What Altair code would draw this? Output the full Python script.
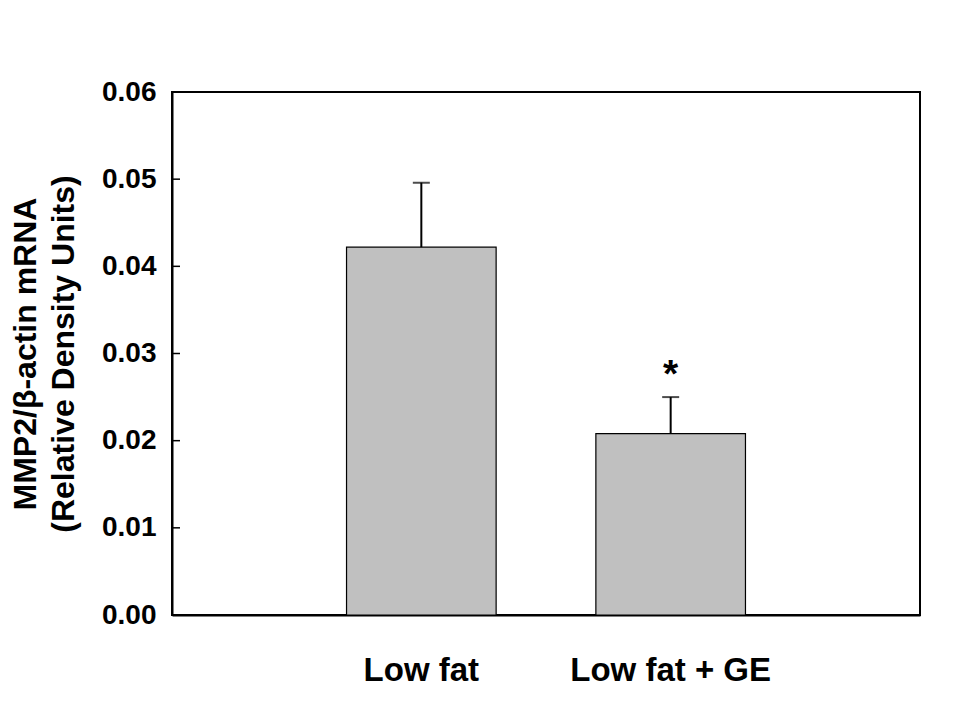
import altair as alt
import pandas as pd

groups = ["Low fat", "Low fat + GE"]
means = [0.0422, 0.0208]
errors = [0.0074, 0.0042]
signif = ["", "*"]
tick_values = [0.01, 0.02, 0.03, 0.04, 0.05]

df = pd.DataFrame({
    "group": groups,
    "mean": means,
    "upper": [m + e for m, e in zip(means, errors)],
    "sig": signif,
})
ticks_df = pd.DataFrame({"v": tick_values})

FONT = "Liberation Sans"

x = alt.X("group:N", sort=groups, title=None,
          scale=alt.Scale(paddingInner=0.4, paddingOuter=0.7),
          axis=alt.Axis(labelAngle=0, ticks=False, labelFontSize=33, labelFont=FONT,
                        labelFontWeight="bold", labelColor="black", labelPadding=39,
                        labelLimit=0, domainColor="black", domainWidth=2))
yscale = alt.Scale(domain=[0, 0.06], nice=False)

bars = alt.Chart(df).mark_bar(color="#c0c0c0", stroke="black", strokeWidth=1.2).encode(
    x=x,
    y=alt.Y("mean:Q", scale=yscale,
            title=["MMP2/β-actin mRNA", "(Relative Density Units)"],
            axis=alt.Axis(values=[0, 0.01, 0.02, 0.03, 0.04, 0.05, 0.06], format=".2f",
                          ticks=False, grid=False, labelFontSize=28, labelFont=FONT,
                          labelFontWeight="bold", labelColor="black", labelPadding=16,
                          domainColor="black", domainWidth=2,
                          titleFontSize=32, titleFont=FONT, titleFontWeight="bold",
                          titleColor="black", titlePadding=21, titleLineHeight=38)),
)

err = alt.Chart(df).mark_rule(color="black", strokeWidth=2).encode(
    x=alt.X("group:N", sort=groups),
    y=alt.Y("mean:Q", scale=yscale),
    y2="upper:Q",
)

caps = alt.Chart(df).mark_tick(color="black", thickness=2, size=17, orient="horizontal").encode(
    x=alt.X("group:N", sort=groups),
    y=alt.Y("upper:Q", scale=yscale),
)

stars = alt.Chart(df).mark_text(fontSize=39, font=FONT, fontWeight="bold", color="black",
                                baseline="alphabetic", dy=-10).encode(
    x=alt.X("group:N", sort=groups),
    y=alt.Y("upper:Q", scale=yscale),
    text="sig:N",
)

inner_ticks = alt.Chart(ticks_df).mark_rule(color="black", strokeWidth=1.5).encode(
    y=alt.Y("v:Q", scale=yscale),
    x=alt.value(0),
    x2=alt.value(8),
)

chart = alt.layer(bars, err, caps, stars, inner_ticks).properties(
    width=748, height=523,
    autosize=alt.AutoSizeParams(type="none"),
    padding={"left": 164, "top": 84, "right": 32, "bottom": 97},
    background="white",
).configure_view(stroke="black", strokeWidth=2)

chart.save("out.html", embed_options={"renderer": "svg", "actions": False})
